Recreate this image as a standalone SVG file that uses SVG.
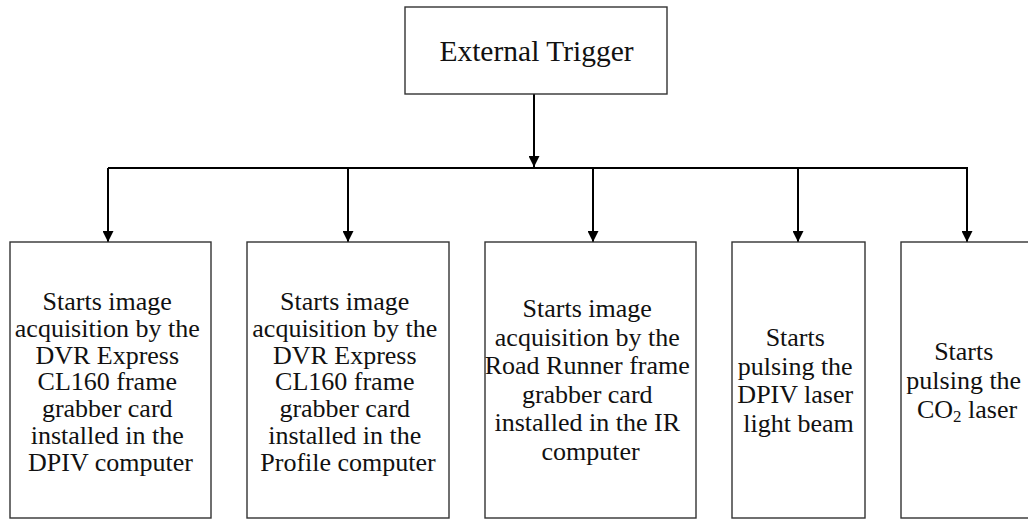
<svg xmlns="http://www.w3.org/2000/svg" width="1028" height="521" viewBox="0 0 1028 521">
<style>
.box{fill:#fff;stroke:#333;stroke-width:1.4}
.t{font-family:"Liberation Serif","Times New Roman",serif;font-size:26px;fill:#111;text-anchor:middle}
.title{font-size:29.5px}
.c{fill:none;stroke:#000;stroke-width:2}
</style>
<defs>
<marker id="ah" markerUnits="userSpaceOnUse" markerWidth="11" markerHeight="11" refX="10" refY="5" orient="auto" viewBox="0 0 10 10">
<path d="M0,0 L10,5 L0,10 z" fill="#000"/>
</marker>
</defs>
<g id="connectors">
<line class="c" x1="534" y1="94" x2="534" y2="167" marker-end="url(#ah)"/>
<polyline class="c" points="108,168 968,168"/>
<line class="c" x1="108" y1="168" x2="108" y2="242" marker-end="url(#ah)"/>
<line class="c" x1="348" y1="168" x2="348" y2="242" marker-end="url(#ah)"/>
<line class="c" x1="593" y1="168" x2="593" y2="242" marker-end="url(#ah)"/>
<line class="c" x1="798" y1="168" x2="798" y2="242" marker-end="url(#ah)"/>
<line class="c" x1="967" y1="168" x2="967" y2="242" marker-end="url(#ah)"/>
</g>
<g id="trigger">
<rect class="box" x="405" y="7" width="262" height="87"/>
<text class="t title" x="536.5" y="61">External Trigger</text>
</g>
<g id="dpiv-grabber">
<rect class="box" x="10" y="242" width="201" height="276"/>
<text class="t" x="110.5" y="310">
<tspan x="110.5" y="310">Starts image</tspan>
<tspan x="110.5" y="336.8">acquisition by the</tspan>
<tspan x="110.5" y="363.6">DVR Express</tspan>
<tspan x="110.5" y="390.4">CL160 frame</tspan>
<tspan x="110.5" y="417.2">grabber card</tspan>
<tspan x="110.5" y="444">installed in the</tspan>
<tspan x="110.5" y="470.8">DPIV computer</tspan>
</text>
</g>
<g id="profile-grabber">
<rect class="box" x="247" y="242" width="202" height="276"/>
<text class="t" x="348" y="310">
<tspan x="348" y="310">Starts image</tspan>
<tspan x="348" y="336.8">acquisition by the</tspan>
<tspan x="348" y="363.6">DVR Express</tspan>
<tspan x="348" y="390.4">CL160 frame</tspan>
<tspan x="348" y="417.2">grabber card</tspan>
<tspan x="348" y="444">installed in the</tspan>
<tspan x="348" y="470.8">Profile computer</tspan>
</text>
</g>
<g id="ir-grabber">
<rect class="box" x="485" y="242" width="211" height="276"/>
<text class="t" x="590.5" y="317">
<tspan x="590.5" y="317">Starts image</tspan>
<tspan x="590.5" y="345.6">acquisition by the</tspan>
<tspan x="590.5" y="374.2">Road Runner frame</tspan>
<tspan x="590.5" y="402.8">grabber card</tspan>
<tspan x="590.5" y="431.4">installed in the IR</tspan>
<tspan x="590.5" y="460">computer</tspan>
</text>
</g>
<g id="dpiv-laser">
<rect class="box" x="732" y="242" width="133" height="276"/>
<text class="t" x="798.5" y="346">
<tspan x="798.5" y="346">Starts</tspan>
<tspan x="798.5" y="374.7">pulsing the</tspan>
<tspan x="798.5" y="403.4">DPIV laser</tspan>
<tspan x="798.5" y="432">light beam</tspan>
</text>
</g>
<g id="co2-laser">
<rect class="box" x="901" y="242" width="132" height="276"/>
<text class="t" x="967" y="360">
<tspan x="967" y="360">Starts</tspan>
<tspan x="967" y="389">pulsing the</tspan>
<tspan x="967" y="418">CO<tspan font-size="17" dy="4">2</tspan><tspan dy="-4"> laser</tspan></tspan>
</text>
</g>
</svg>
